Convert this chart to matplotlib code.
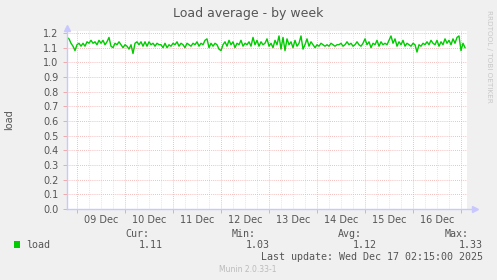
import numpy as np
import matplotlib.pyplot as plt
from matplotlib.patches import Rectangle

W, H = 497, 280

# hourly samples, first one at Dec 08 19:00 (hours relative to Dec 09 00:00)
start_hour = -5
load = [
    1.17, 1.16, 1.13, 1.11, 1.08, 1.12, 1.13, 1.11, 1.13, 1.11,
    1.14, 1.13, 1.15, 1.13, 1.14, 1.12, 1.15, 1.13, 1.15, 1.12,
    1.14, 1.17, 1.11, 1.10, 1.13, 1.12, 1.14, 1.12, 1.10, 1.12,
    1.11, 1.09, 1.12, 1.06, 1.13, 1.14, 1.12, 1.14, 1.11, 1.14,
    1.11, 1.14, 1.12, 1.13, 1.11, 1.13, 1.12, 1.12, 1.10, 1.13,
    1.10, 1.12, 1.11, 1.13, 1.12, 1.14, 1.11, 1.13, 1.12, 1.10,
    1.13, 1.12, 1.11, 1.13, 1.12, 1.14, 1.11, 1.13, 1.12, 1.15,
    1.16, 1.10, 1.13, 1.11, 1.13, 1.12, 1.09, 1.08, 1.12, 1.14,
    1.11, 1.15, 1.12, 1.14, 1.10, 1.13, 1.12, 1.15, 1.11, 1.13,
    1.12, 1.14, 1.11, 1.17, 1.12, 1.15, 1.11, 1.14, 1.12, 1.13,
    1.16, 1.11, 1.13, 1.10, 1.15, 1.12, 1.18, 1.09, 1.17, 1.08,
    1.16, 1.12, 1.14, 1.10, 1.15, 1.11, 1.13, 1.18, 1.09, 1.12,
    1.16, 1.11, 1.14, 1.12, 1.10, 1.12, 1.11, 1.13, 1.12, 1.11,
    1.12, 1.11, 1.13, 1.12, 1.11, 1.12, 1.12, 1.13, 1.11, 1.12,
    1.14, 1.12, 1.13, 1.11, 1.12, 1.14, 1.12, 1.11, 1.13, 1.16,
    1.12, 1.14, 1.10, 1.13, 1.12, 1.15, 1.11, 1.14, 1.12, 1.13,
    1.12, 1.15, 1.18, 1.13, 1.16, 1.11, 1.14, 1.12, 1.15, 1.11,
    1.13, 1.12, 1.11, 1.13, 1.12, 1.07, 1.12, 1.11, 1.13, 1.12,
    1.14, 1.12, 1.15, 1.13, 1.12, 1.15, 1.11, 1.14, 1.12, 1.16,
    1.13, 1.15, 1.12, 1.16, 1.13, 1.17, 1.18, 1.08, 1.13, 1.10,
]
day_labels = ['09 Dec', '10 Dec', '11 Dec', '12 Dec', '13 Dec', '14 Dec', '15 Dec', '16 Dec']
y_ticks = [0.0, 0.1, 0.2, 0.3, 0.4, 0.5, 0.6, 0.7, 0.8, 0.9, 1.0, 1.1, 1.2]
stat_names = ['Cur:', 'Min:', 'Avg:', 'Max:']
stat_values = ['1.11', '1.03', '1.12', '1.33']
last_update = 'Last update: Wed Dec 17 02:15:00 2025'

hours = start_hour + np.arange(len(load))

BG = '#f0f0f0'
TXT = '#555555'
AXC = '#c8c8ff'
MAJ = '#f2a8a8'
MIN = '#dcdcdc'


def fx(x):
    return x / W


def fy(y):
    return 1 - y / H


fig = plt.figure(figsize=(W / 100, H / 100), dpi=100, facecolor=BG)
ax = fig.add_axes([fx(67), fy(209), 400 / W, 178 / H])
ax.set_facecolor('white')
ax.set_xlim(-5, 195)
ax.set_ylim(0, 1.2136)

dots = (0, (1, 1.5))
for h in np.arange(0, 195, 6):
    if h % 24:
        ax.axvline(h, color=MIN, lw=0.6, ls=dots, zorder=1)
for y in y_ticks[1:]:
    ax.axhline(y, color=MAJ, lw=0.6, ls=dots, zorder=1)
for h in np.arange(0, 195, 24):
    ax.axvline(h, color=MAJ, lw=0.6, ls=dots, zorder=1)

ax.plot(hours, load, color='#00cc00', lw=1.0, zorder=3)

for s in ax.spines.values():
    s.set_visible(False)
ax.plot([-5, 198.5], [0, 0], color=AXC, lw=1, clip_on=False, zorder=4)
ax.plot([-5, -5], [0, 1.235], color=AXC, lw=1, clip_on=False, zorder=4)
ax.plot([199], [0], marker='>', ms=4, color=AXC, clip_on=False, zorder=4)
ax.plot([-5], [1.237], marker='^', ms=4, color=AXC, clip_on=False, zorder=4)

ax.set_xticks(np.arange(12, 195, 24))
ax.set_xticklabels(day_labels)
ax.set_xticks(np.arange(0, 195, 24), minor=True)
ax.tick_params(axis='x', which='major', length=0, pad=4, labelsize=7, labelcolor=TXT)
ax.tick_params(axis='x', which='minor', length=3, width=0.7, color=MAJ)
ax.set_yticks(y_ticks)
ax.set_yticklabels(['%.1f' % v for v in y_ticks])
ax.tick_params(axis='y', length=3, width=0.7, color=MAJ, pad=3, labelsize=7, labelcolor=TXT)

fig.text(fx(248), fy(13), 'Load average - by week', ha='center', va='center',
         fontsize=9, color=TXT)
fig.text(fx(489), fy(56), 'RRDTOOL / TOBI OETIKER', ha='center', va='center',
         rotation=270, fontsize=5.2, color='#c8c8c8')
fig.text(fx(9), fy(120), 'load', ha='center', va='center', rotation=90,
         fontsize=7, color=TXT)

mono = 'DejaVu Sans Mono'
name_right = [149, 256, 362, 469]
val_right = [163, 270, 377, 483]
for n, v, xn, xv in zip(stat_names, stat_values, name_right, val_right):
    fig.text(fx(xn), fy(234), n, ha='right', va='center', family=mono, fontsize=7.2, color=TXT)
    fig.text(fx(xv), fy(245), v, ha='right', va='center', family=mono, fontsize=7.2, color=TXT)
fig.patches.append(Rectangle((fx(14), fy(248)), 6 / W, 7 / H, transform=fig.transFigure,
                             facecolor='#00cc00', edgecolor='none'))
fig.text(fx(26), fy(245), 'load', ha='left', va='center', family=mono, fontsize=7.2, color=TXT)
fig.text(fx(483), fy(257), last_update, ha='right', va='center', family=mono,
         fontsize=7.2, color=TXT)
fig.text(fx(248), fy(269), 'Munin 2.0.33-1', ha='center', va='center',
         fontsize=5.5, color='#bbbbbb')

fig.savefig('out.png', dpi=100, facecolor=BG)
